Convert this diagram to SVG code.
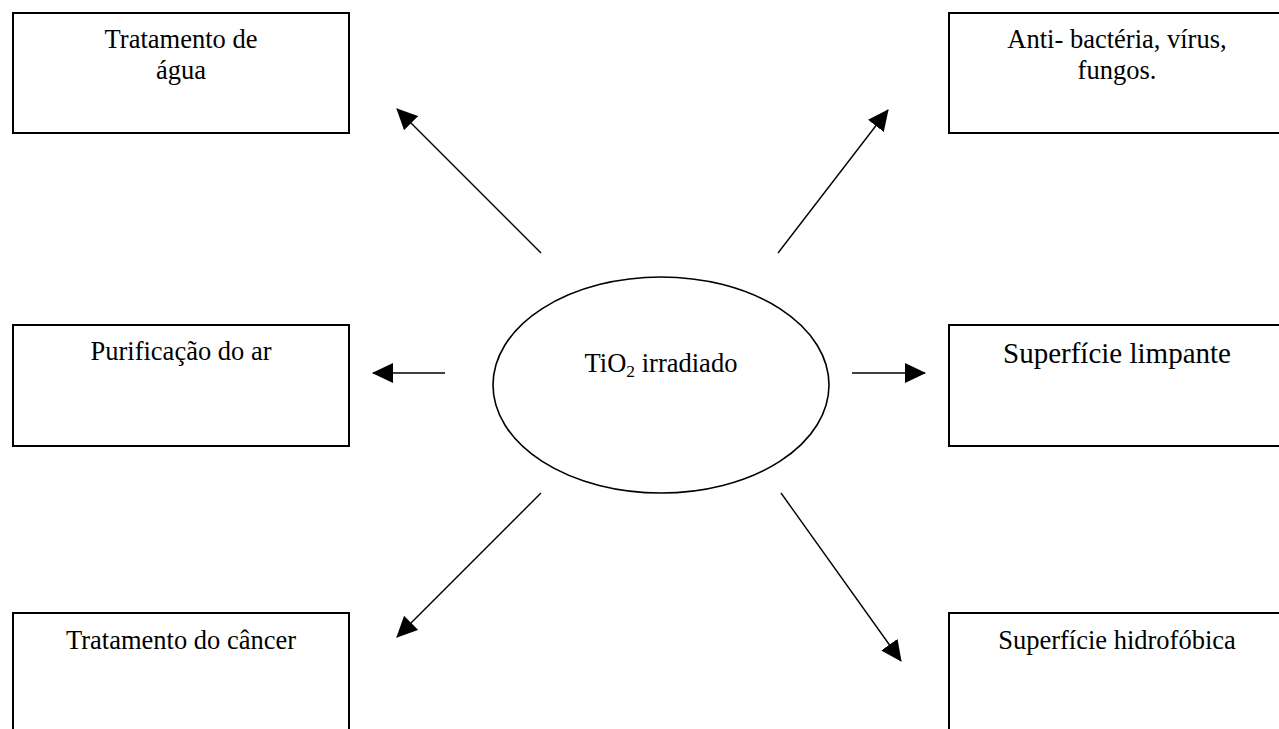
<svg xmlns="http://www.w3.org/2000/svg" width="1279" height="729" viewBox="0 0 1279 729">
<style>
  .box { fill: #ffffff; stroke: #000000; stroke-width: 2; }
  .ell { fill: #ffffff; stroke: #000000; stroke-width: 1.6; }
  .lbl { font-family: "Liberation Serif", "Times New Roman", serif; font-size: 26.5px; fill: #000000; text-anchor: middle; }
  .big { font-size: 29px; }
  .con { stroke: #000000; stroke-width: 1.4; fill: none; marker-end: url(#arrow); }
</style>
<defs>
  <marker id="arrow" viewBox="0 0 21 20" refX="20" refY="10" markerWidth="21" markerHeight="20" markerUnits="userSpaceOnUse" orient="auto">
    <path d="M0,0 L21,10 L0,20 Z" fill="#000000"/>
  </marker>
</defs>
<rect x="0" y="0" width="1279" height="729" fill="#ffffff"/>

<g id="node-agua">
  <rect class="box" x="13" y="13" width="336" height="120"/>
  <text class="lbl" x="181" y="48">Tratamento de</text>
  <text class="lbl" x="181" y="79">água</text>
</g>
<g id="node-anti">
  <rect class="box" x="949" y="13" width="340" height="120"/>
  <text class="lbl" x="1117" y="48">Anti- bactéria, vírus,</text>
  <text class="lbl" x="1117" y="79">fungos.</text>
</g>
<g id="node-ar">
  <rect class="box" x="13" y="325" width="336" height="121"/>
  <text class="lbl" x="181" y="360">Purificação do ar</text>
</g>
<g id="node-limpante">
  <rect class="box" x="949" y="325" width="340" height="121"/>
  <text class="lbl big" x="1117" y="363">Superfície limpante</text>
</g>
<g id="node-cancer">
  <rect class="box" x="13" y="613" width="336" height="200"/>
  <text class="lbl" x="181" y="649">Tratamento do câncer</text>
</g>
<g id="node-hidrofobica">
  <rect class="box" x="949" y="613" width="340" height="200"/>
  <text class="lbl" x="1117" y="649">Superfície hidrofóbica</text>
</g>
<g id="node-tio2">
  <ellipse class="ell" cx="661" cy="385" rx="168" ry="108"/>
  <text class="lbl" x="661" y="372">TiO<tspan font-size="17.5" dy="5">2</tspan><tspan dy="-5"> irradiado</tspan></text>
</g>

<g id="connectors">
  <line class="con" x1="541" y1="253" x2="397" y2="109"/>
  <line class="con" x1="778" y1="253" x2="888" y2="110"/>
  <line class="con" x1="445" y1="373" x2="373" y2="373"/>
  <line class="con" x1="852" y1="373" x2="925" y2="373"/>
  <line class="con" x1="541" y1="493" x2="397" y2="637"/>
  <line class="con" x1="781" y1="493" x2="901" y2="661"/>
</g>
</svg>
